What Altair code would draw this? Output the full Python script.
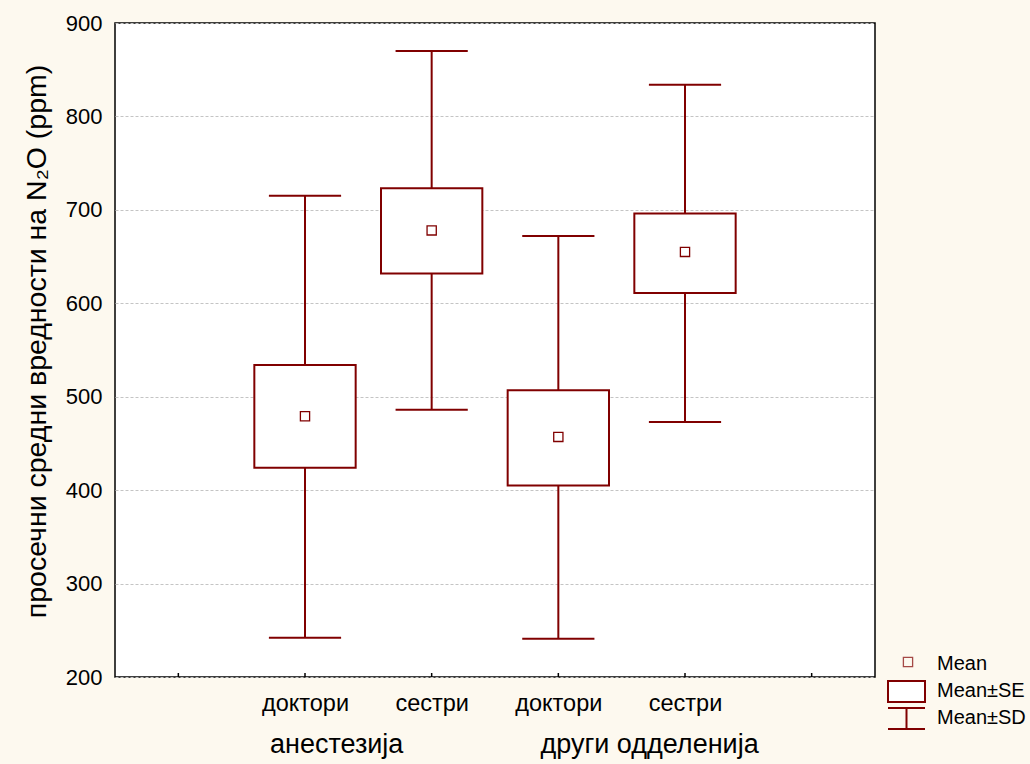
import json
import altair as alt
import pandas as pd

# ---- data ----
positions = [1, 2, 3, 4]
sub_labels = ["доктори", "сестри", "доктори", "сестри"]
group_labels = ["анестезија", "други одделенија"]
group_label_pos = [1.25, 3.72]
means = [479, 678, 457, 655]
se_low = [424, 632, 405, 611]
se_high = [534, 723, 507, 696]
sd_low = [242, 486, 241, 473]
sd_high = [715, 870, 672, 834]
x_ticks = [0, 1, 2, 3, 4, 5]
y_ticks = [200, 300, 400, 500, 600, 700, 800, 900]
legend_labels = ["Mean", "Mean±SE", "Mean±SD"]

W, H = 760, 654
RED = "#800000"
FONT = "Liberation Sans"

df = pd.DataFrame({
    "pos": positions, "label": sub_labels, "mean": means,
    "se_lo": se_low, "se_hi": se_high, "sd_lo": sd_low, "sd_hi": sd_high,
})

label_list = [""] + sub_labels + [""]
label_expr = json.dumps(label_list, ensure_ascii=False) + "[datum.value]"

xscale = alt.Scale(domain=[-0.5, 5.5], nice=False, zero=False)
yscale = alt.Scale(domain=[200, 900], nice=False, zero=False)

xaxis = alt.Axis(values=positions, labelExpr=label_expr, ticks=False, domain=False,
                 grid=False, labelFont=FONT, labelFontSize=23.5, labelColor="black",
                 labelPadding=33, labelBaseline="alphabetic", title=None)
yaxis = alt.Axis(values=y_ticks, ticks=False, domain=False, grid=True,
                 gridColor="#c4c4c4", gridDash=[3, 2], gridWidth=1,
                 labelFont=FONT, labelFontSize=22, labelColor="black", labelPadding=13,
                 title="просечни средни вредности на N₂O (ppm)",
                 titleFont=FONT, titleFontSize=28.5, titleFontWeight="normal",
                 titleColor="black", titleAngle=270, titleX=-79, titleY=318,
                 titleAlign="center", titleBaseline="middle")

base = alt.Chart(df)

whisk = base.mark_rule(color=RED, strokeWidth=2).encode(
    x=alt.X("pos:Q", scale=xscale, axis=xaxis),
    y=alt.Y("sd_lo:Q", scale=yscale, axis=yaxis),
    y2="sd_hi:Q",
)

caps_hi = base.transform_calculate(xl="datum.pos - 0.285", xr="datum.pos + 0.285").mark_rule(
    color=RED, strokeWidth=2).encode(x="xl:Q", x2="xr:Q", y="sd_hi:Q")
caps_lo = base.transform_calculate(xl="datum.pos - 0.285", xr="datum.pos + 0.285").mark_rule(
    color=RED, strokeWidth=2).encode(x="xl:Q", x2="xr:Q", y="sd_lo:Q")

boxes = base.transform_calculate(xl="datum.pos - 0.4", xr="datum.pos + 0.4").mark_rect(
    fill="white", stroke=RED, strokeWidth=2).encode(
    x="xl:Q", x2="xr:Q", y="se_lo:Q", y2="se_hi:Q")

pts = base.mark_point(shape="square", size=85, filled=False, fill="white",
                      color=RED, strokeWidth=1.3, opacity=1).encode(
    x="pos:Q", y="mean:Q")

ticks_df = pd.DataFrame({"t": x_ticks})
xticks = alt.Chart(ticks_df).mark_rule(color="black", strokeWidth=1.5).encode(
    x="t:Q", y=alt.value(H), y2=alt.value(H - 4))

grp_df = pd.DataFrame({"g": group_labels, "gx": group_label_pos})
groups = alt.Chart(grp_df).mark_text(font=FONT, fontSize=27, color="black",
                                     baseline="alphabetic", align="center").encode(
    x="gx:Q", y=alt.value(730), text="g:N")

# ---- legend (drawn manually to the right of the plot) ----
one = pd.DataFrame({"k": [0]})
leg_pt = alt.Chart(one).mark_point(shape="square", size=85, filled=False, color=RED,
                                   strokeWidth=1.3).encode(x=alt.value(793), y=alt.value(639))
leg_box = alt.Chart(one).mark_rect(fill="white", stroke=RED, strokeWidth=2).encode(
    x=alt.value(773), x2=alt.value(810), y=alt.value(658), y2=alt.value(679))
leg_sd_top = alt.Chart(one).mark_rule(color=RED, strokeWidth=2).encode(
    x=alt.value(773), x2=alt.value(810), y=alt.value(685))
leg_sd_bot = alt.Chart(one).mark_rule(color=RED, strokeWidth=2).encode(
    x=alt.value(773), x2=alt.value(810), y=alt.value(706))
leg_sd_v = alt.Chart(one).mark_rule(color=RED, strokeWidth=2).encode(
    x=alt.value(791.5), y=alt.value(685), y2=alt.value(706))
leg_df = pd.DataFrame({"lab": legend_labels, "ly": [641, 668, 695]})
leg_txt = alt.Chart(leg_df).mark_text(font=FONT, fontSize=20, color="black",
                                      align="left", baseline="middle").encode(
    x=alt.value(822), y=alt.Y("ly:Q", scale=None), text="lab:N")

chart = alt.layer(
    whisk, caps_hi, caps_lo, boxes, pts, xticks, groups,
    leg_pt, leg_box, leg_sd_top, leg_sd_bot, leg_sd_v, leg_txt,
).properties(
    width=W, height=H,
    autosize=alt.AutoSizeParams(type="none"),
    padding={"left": 115, "top": 23, "right": 155, "bottom": 87},
).configure(
    background="#fdf9ef",
).configure_view(
    fill="white", stroke="black", strokeWidth=1.5,
)

chart.save("out.html", embed_options={"renderer": "svg", "actions": False})
